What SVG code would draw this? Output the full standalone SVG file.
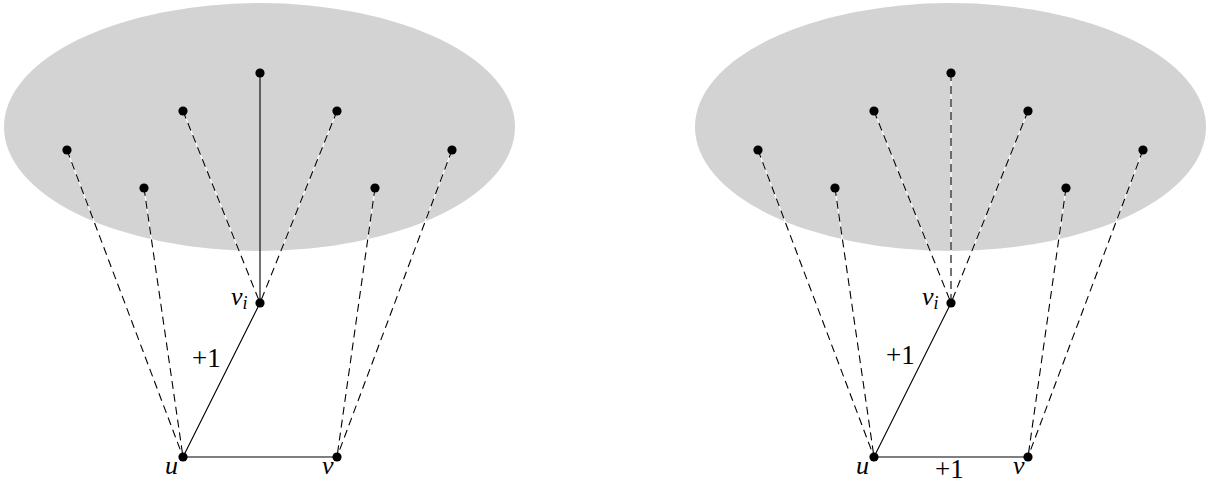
<svg xmlns="http://www.w3.org/2000/svg" width="1207" height="484" viewBox="0 0 1207 484">
<style>
.blob{fill:#d3d3d3;stroke:none}
.under{stroke:#fff;stroke-width:1.2;fill:none}
.dash{stroke:#000;stroke-width:1.1;stroke-dasharray:8,5;fill:none}
.solid{stroke:#000;stroke-width:1.1;fill:none}
.dot{fill:#000}
.lbl{font-family:"Liberation Serif","Times New Roman",serif;font-size:27px;fill:#000}
.it{font-style:italic;font-size:26px}
</style>
<rect width="1207" height="484" fill="#fff"/>
<g id="left">
<ellipse id="blob-left" class="blob" cx="259.5" cy="127" rx="255.5" ry="124"/>
<g id="edges-left">
<path class="under" d="M67,150L183,457M144,188L183,457M183,111L260,303M337,111L260,303M375,188L337,457M452,150L337,457"/>
<path class="dash" d="M67,150L183,457M144,188L183,457M183,111L260,303M337,111L260,303M375,188L337,457M452,150L337,457"/>
<path class="solid" d="M260,73L260,303M260,303L183,457L337,457"/>
</g>
<g id="nodes-left">
<circle class="dot" cx="260" cy="73" r="4.6"/>
<circle class="dot" cx="183" cy="111" r="4.6"/>
<circle class="dot" cx="337" cy="111" r="4.6"/>
<circle class="dot" cx="67" cy="150" r="4.6"/>
<circle class="dot" cx="452" cy="150" r="4.6"/>
<circle class="dot" cx="144" cy="188" r="4.6"/>
<circle class="dot" cx="375" cy="188" r="4.6"/>
<circle class="dot" cx="260" cy="303" r="4.6"/>
<circle class="dot" cx="183" cy="457" r="4.6"/>
<circle class="dot" cx="337" cy="457" r="4.6"/>
</g>
<g id="labels-left">
<text class="lbl it" x="231" y="305">v<tspan font-size="18" dy="4">i</tspan></text>
<text class="lbl" x="192" y="367">+1</text>
<text class="lbl it" x="165" y="474">u</text>
<text class="lbl it" x="322" y="474">v</text>
</g>
</g>
<g id="right" transform="translate(691,0)">
<ellipse id="blob-right" class="blob" cx="259.5" cy="127" rx="255.5" ry="124"/>
<g id="edges-right">
<path class="under" d="M67,150L183,457M144,188L183,457M183,111L260,303M260,73L260,303M337,111L260,303M375,188L337,457M452,150L337,457"/>
<path class="dash" d="M67,150L183,457M144,188L183,457M183,111L260,303M260,73L260,303M337,111L260,303M375,188L337,457M452,150L337,457"/>
<path class="solid" d="M260,303L183,457L337,457"/>
</g>
<g id="nodes-right">
<circle class="dot" cx="260" cy="73" r="4.6"/>
<circle class="dot" cx="183" cy="111" r="4.6"/>
<circle class="dot" cx="337" cy="111" r="4.6"/>
<circle class="dot" cx="67" cy="150" r="4.6"/>
<circle class="dot" cx="452" cy="150" r="4.6"/>
<circle class="dot" cx="144" cy="188" r="4.6"/>
<circle class="dot" cx="375" cy="188" r="4.6"/>
<circle class="dot" cx="260" cy="303" r="4.6"/>
<circle class="dot" cx="183" cy="457" r="4.6"/>
<circle class="dot" cx="337" cy="457" r="4.6"/>
</g>
<g id="labels-right">
<text class="lbl it" x="231" y="305">v<tspan font-size="18" dy="4">i</tspan></text>
<text class="lbl" x="195" y="364">+1</text>
<text class="lbl it" x="165" y="474">u</text>
<text class="lbl it" x="322" y="474">v</text>
<text class="lbl" x="244" y="478">+1</text>
</g>
</g>
</svg>
